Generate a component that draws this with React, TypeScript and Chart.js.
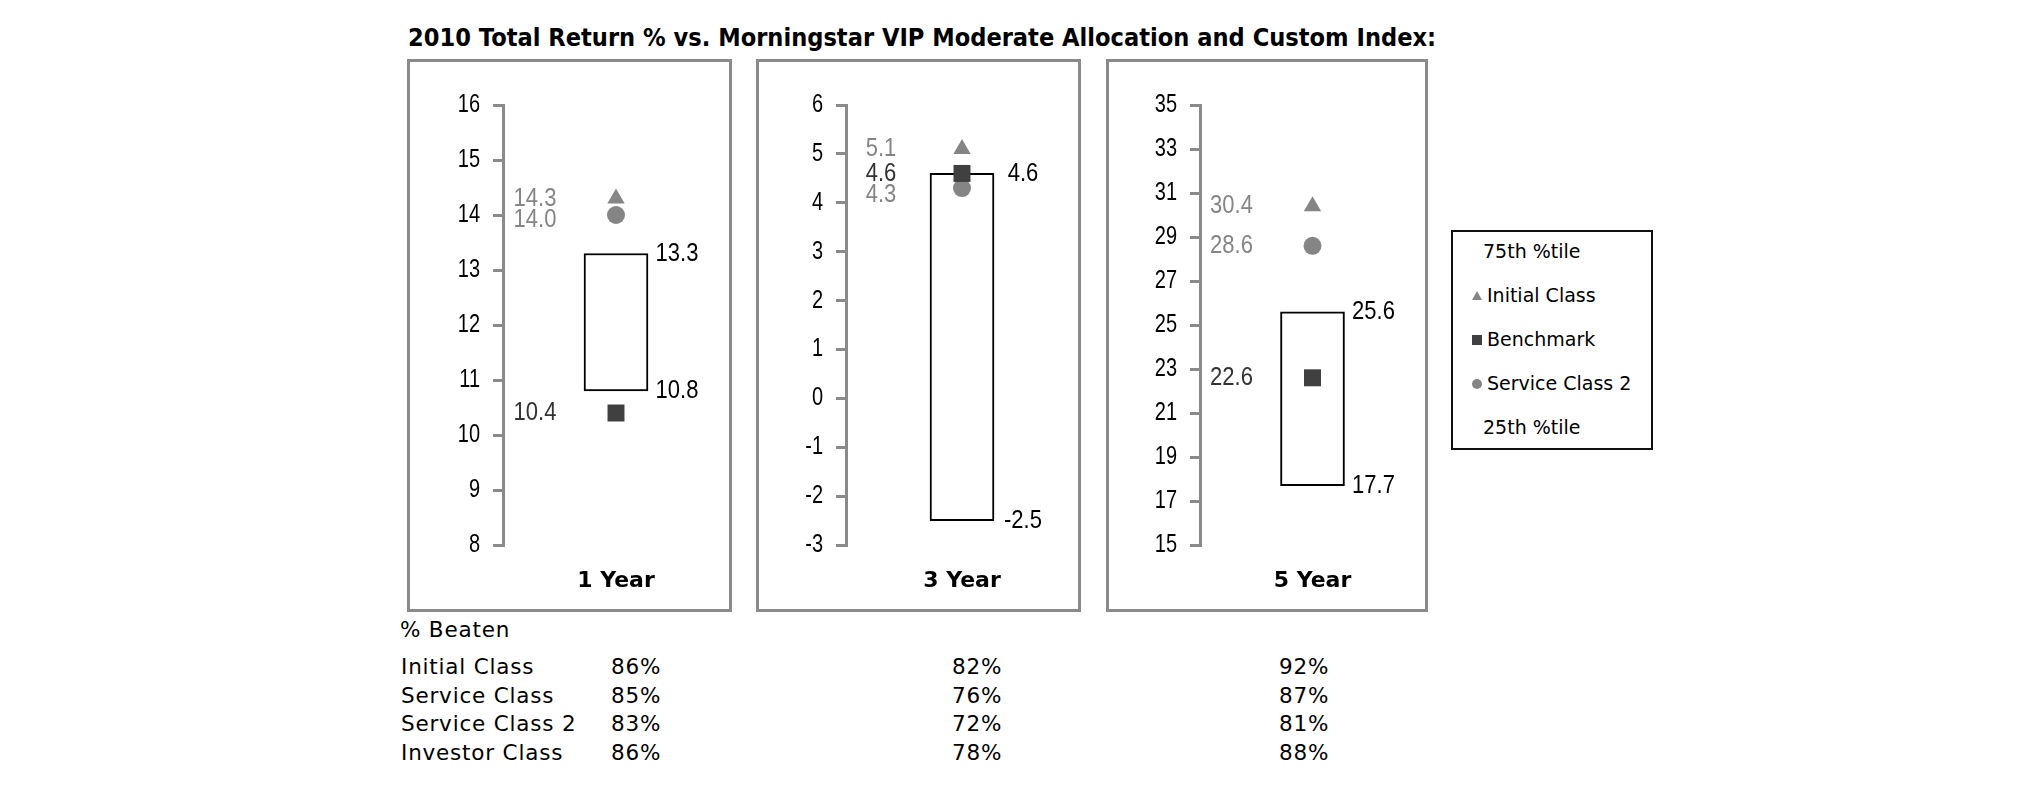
import React, { useEffect, useRef } from 'react';
import { Chart, registerables } from 'chart.js';

Chart.register(...registerables);

// ---------- data ----------
const periods = ['1 Year', '3 Year', '5 Year'];
const pct75 = [13.3, 4.6, 25.6];
const pct25 = [10.8, -2.5, 17.7];
const initialClass = [14.3, 5.1, 30.4];
const benchmark = [10.4, 4.6, 22.6];
const serviceClass2 = [14.0, 4.3, 28.6];
const axisMin = [8, -3, 15];
const axisMax = [16, 6, 35];
const axisStep = [1, 1, 2];

const legendItems = ['75th %tile', 'Initial Class', 'Benchmark', 'Service Class 2', '25th %tile'];

const beatenClasses = ['Initial Class', 'Service Class', 'Service Class 2', 'Investor Class'];
const beaten1 = [86, 85, 83, 86];
const beaten3 = [82, 76, 72, 78];
const beaten5 = [92, 87, 81, 88];

const TITLE = '2010 Total Return % vs. Morningstar VIP Moderate Allocation and Custom Index:';

// ---------- styles ----------
const GRAY = '#858585';
const DARK = '#404040';
const AXIS = '#8a8a8a';
const ARIAL = '"Liberation Sans", Arial, sans-serif';
const VERDANA = '"DejaVu Sans", Verdana, sans-serif';

const panelGeom = [
  { left: 407, width: 325, axisX: 503 },
  { left: 756, width: 325, axisX: 846 },
  { left: 1106, width: 322, axisX: 1200 },
];
const PANEL_TOP = 59;
const PANEL_H = 553;
const CANVAS_TOP = 62;
const CANVAS_H = 547;
const AREA_TOP = 105;
const AREA_BOTTOM = 545;

function stretchedText(ctx: any, text: string, x: number, y: number, sy: number) {
  ctx.save();
  ctx.translate(x, y);
  ctx.scale(1, sy);
  ctx.fillText(text, 0, 0);
  ctx.restore();
}

const labelPlugin = {
  id: 'valueLabels',
  afterDatasetsDraw(chart: any) {
    const idx: number = chart.options.plugins.valueLabels.idx;
    const ctx = chart.ctx;
    const ys = chart.scales.y;
    const bar = chart.getDatasetMeta(0).data[0] as any;
    const right = bar.x + bar.width / 2;
    ctx.save();
    // y tick labels (from the library's scale ticks)
    ctx.font = `20px ${ARIAL}`;
    ctx.textAlign = 'right';
    ctx.textBaseline = 'middle';
    ctx.fillStyle = '#000';
    ys.ticks.forEach((t: any) => {
      stretchedText(ctx, String(t.value), ys.right - 10 - 13, ys.getPixelForValue(t.value), 1.27);
    });
    // box (percentile) labels
    ctx.font = `22px ${ARIAL}`;
    ctx.textAlign = 'center';
    [pct75[idx], pct25[idx]].forEach((v) => {
      stretchedText(ctx, v.toFixed(1), right + 29, ys.getPixelForValue(v), 1.18);
    });
    // marker labels
    const items = [
      { v: initialClass[idx], color: GRAY },
      { v: benchmark[idx], color: '#333' },
      { v: serviceClass2[idx], color: GRAY },
    ]
      .map((o) => ({ ...o, py: ys.getPixelForValue(o.v) as number }))
      .sort((a, b) => a.py - b.py);
    let prev = -Infinity;
    items.forEach((it) => {
      if (it.py < prev + 21.5) it.py = prev + 21.5;
      prev = it.py;
      ctx.fillStyle = it.color;
      stretchedText(ctx, it.v.toFixed(1), bar.x - 81, it.py, 1.18);
    });
    ctx.restore();
  },
};

function Panel({ idx }: { idx: number }) {
  const ref = useRef<HTMLCanvasElement | null>(null);
  const g = panelGeom[idx];
  const canvasLeft = g.left + 3;
  const canvasW = g.width + 6;
  const yAxisW = g.axisX - canvasLeft;

  useEffect(() => {
    if (!ref.current) return;
    const chart = new Chart(ref.current, {
      type: 'bar',
      data: {
        labels: [periods[idx]],
        datasets: [
          {
            type: 'bar',
            label: 'Percentile range',
            data: [[pct25[idx], pct75[idx]]] as any,
            backgroundColor: '#ffffff',
            borderColor: '#000000',
            borderWidth: 2,
            borderSkipped: false,
            barThickness: 64,
            order: 3,
          },
          {
            type: 'line',
            label: 'Initial Class',
            data: [initialClass[idx]],
            showLine: false,
            pointStyle: 'triangle',
            pointRadius: 10,
            pointBackgroundColor: GRAY,
            pointBorderColor: GRAY,
            pointBorderWidth: 0,
            order: 2,
          },
          {
            type: 'line',
            label: 'Service Class 2',
            data: [serviceClass2[idx]],
            showLine: false,
            pointStyle: 'circle',
            pointRadius: 9,
            pointBackgroundColor: GRAY,
            pointBorderColor: GRAY,
            pointBorderWidth: 0,
            order: 1,
          },
          {
            type: 'line',
            label: 'Benchmark',
            data: [benchmark[idx]],
            showLine: false,
            pointStyle: 'rect',
            pointRadius: 12,
            pointBackgroundColor: DARK,
            pointBorderColor: DARK,
            pointBorderWidth: 0,
            order: 0,
          },
        ],
      },
      options: {
        animation: false,
        responsive: false,
        maintainAspectRatio: false,
        events: [],
        layout: { padding: { top: AREA_TOP - CANVAS_TOP, left: 0, right: 0, bottom: 0 } },
        plugins: {
          legend: { display: false },
          tooltip: { enabled: false },
          title: { display: false },
          valueLabels: { idx },
        } as any,
        scales: {
          x: {
            type: 'category',
            offset: true,
            grid: { display: false, drawTicks: false },
            border: { display: false },
            ticks: {
              color: '#000',
              padding: 23,
              font: { family: VERDANA, size: 22, weight: 'bold' },
            },
            afterFit: (s: any) => {
              s.height = CANVAS_TOP + CANVAS_H - AREA_BOTTOM;
            },
          },
          y: {
            min: axisMin[idx],
            max: axisMax[idx],
            grid: {
              drawOnChartArea: false,
              drawTicks: true,
              tickLength: 10,
              color: AXIS,
              lineWidth: 3,
            },
            border: { display: true, color: AXIS, width: 3 },
            ticks: {
              display: false,
              stepSize: axisStep[idx],
              autoSkip: false,
            },
            afterFit: (s: any) => {
              s.width = yAxisW;
            },
          },
        },
      },
      plugins: [labelPlugin],
    } as any);
    return () => chart.destroy();
  }, [idx]);

  return (
    <>
      <div
        style={{
          position: 'absolute',
          left: g.left,
          top: PANEL_TOP,
          width: g.width,
          height: PANEL_H,
          border: `3px solid ${AXIS}`,
          boxSizing: 'border-box',
        }}
      />
      <canvas
        ref={ref}
        width={canvasW}
        height={CANVAS_H}
        style={{ position: 'absolute', left: canvasLeft, top: CANVAS_TOP, width: canvasW, height: CANVAS_H }}
      />
    </>
  );
}

function Text({ x, cy, size, children, bold, font, color, spacing, sy }: any) {
  const lh = Math.round(size * 1.2);
  return (
    <div
      style={{
        position: 'absolute',
        left: x,
        top: cy - lh / 2 - size * 0.05,
        fontFamily: font || VERDANA,
        fontSize: size,
        lineHeight: `${lh}px`,
        fontWeight: bold ? 'bold' : 'normal',
        color: color || '#000',
        whiteSpace: 'nowrap',
        letterSpacing: spacing ? `${spacing}px` : undefined,
        transform: sy ? `scaleY(${sy})` : undefined,
        transformOrigin: 'left center',
      }}
    >
      {children}
    </div>
  );
}

function LegendMarker({ kind, x, cy }: { kind: string; x: number; cy: number }) {
  if (kind === 'triangle') {
    return (
      <div
        style={{
          position: 'absolute',
          left: x - 5,
          top: cy - 5,
          width: 0,
          height: 0,
          borderLeft: '5px solid transparent',
          borderRight: '5px solid transparent',
          borderBottom: `9px solid ${GRAY}`,
        }}
      />
    );
  }
  if (kind === 'rect') {
    return (
      <div style={{ position: 'absolute', left: x - 5, top: cy - 5, width: 10, height: 10, background: DARK }} />
    );
  }
  return (
    <div
      style={{ position: 'absolute', left: x - 5, top: cy - 5, width: 10, height: 10, borderRadius: '50%', background: GRAY }}
    />
  );
}

export default function App() {
  const legendY = [252, 296, 340, 384, 428];
  const legendKinds = ['', 'triangle', 'rect', 'circle', ''];
  const rowY = [668, 697, 725, 754];
  const colX = [611, 952, 1279];
  const cols = [beaten1, beaten3, beaten5];
  return (
    <div
      style={{
        position: 'absolute',
        left: 0,
        top: 0,
        width: 2025,
        height: 806,
        background: '#fff',
        overflow: 'hidden',
      }}
    >
      <Text x={408} cy={38.5} size={22.6} bold sy={1.08}>
        {TITLE}
      </Text>
      {periods.map((_, i) => (
        <Panel key={i} idx={i} />
      ))}
      <div
        style={{
          position: 'absolute',
          left: 1451,
          top: 230,
          width: 202,
          height: 220,
          border: '2px solid #111',
          boxSizing: 'border-box',
        }}
      />
      {legendItems.map((t, i) => (
        <React.Fragment key={t}>
          {legendKinds[i] && <LegendMarker kind={legendKinds[i]} x={1477} cy={legendY[i]} />}
          <Text x={legendKinds[i] ? 1487 : 1483} cy={legendY[i]} size={19}>
            {t}
          </Text>
        </React.Fragment>
      ))}
      <Text x={400} cy={631.5} size={21.5} spacing={0.8}>
        % Beaten
      </Text>
      {beatenClasses.map((c, r) => (
        <React.Fragment key={c}>
          <Text x={401} cy={rowY[r]} size={21.5} spacing={0.8}>
            {c}
          </Text>
          {cols.map((col, k) => (
            <Text key={k} x={colX[k]} cy={rowY[r]} size={21.5} spacing={0.8}>
              {col[r]}%
            </Text>
          ))}
        </React.Fragment>
      ))}
    </div>
  );
}
